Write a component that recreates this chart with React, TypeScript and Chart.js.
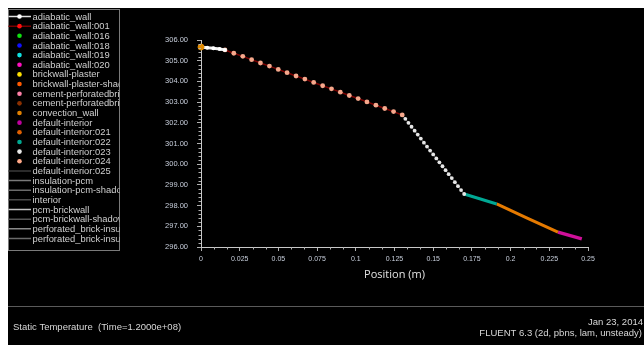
import React, { useEffect, useRef } from "react";
import { Chart, registerables } from "chart.js";

Chart.register(...registerables);

// ---------- data ----------
const xTickValues = [0, 0.025, 0.05, 0.075, 0.1, 0.125, 0.15, 0.175, 0.2, 0.225, 0.25];
const xTickLabels = ["0", "0.025", "0.05", "0.075", "0.1", "0.125", "0.15", "0.175", "0.2", "0.225", "0.25"];
const yTickValues = [296, 297, 298, 299, 300, 301, 302, 303, 304, 305, 306];
const yTickLabels = ["296.00", "297.00", "298.00", "299.00", "300.00", "301.00", "302.00", "303.00", "304.00", "305.00", "306.00"];

const convectionX = [0];
const convectionY = [305.66];

const adiabaticX = [0, 0.004, 0.008, 0.012, 0.0155];
const adiabaticY = [305.66, 305.63, 305.6, 305.56, 305.52];

const interior024X = [0.0155, 0.0212, 0.027, 0.0327, 0.0384, 0.0442, 0.0499, 0.0556, 0.0614, 0.0671, 0.0728, 0.0786, 0.0843, 0.09, 0.0958, 0.1015, 0.1072, 0.113, 0.1187, 0.1244, 0.13];
const interior024Y = [305.52, 305.36, 305.21, 305.05, 304.89, 304.74, 304.58, 304.42, 304.26, 304.11, 303.95, 303.79, 303.64, 303.48, 303.32, 303.17, 303.01, 302.85, 302.69, 302.54, 302.38];

const interior023X = [0.13, 0.132, 0.134, 0.136, 0.138, 0.14, 0.142, 0.144, 0.146, 0.148, 0.15, 0.152, 0.154, 0.156, 0.158, 0.16, 0.162, 0.164, 0.166, 0.168, 0.17];
const interior023Y = [302.38, 302.19, 302.0, 301.81, 301.62, 301.43, 301.24, 301.04, 300.85, 300.66, 300.47, 300.28, 300.09, 299.9, 299.71, 299.52, 299.33, 299.13, 298.94, 298.75, 298.56];

const interior022X = [0.17, 0.18, 0.191];
const interior022Y = [298.56, 298.33, 298.08];

const interior021X = [0.191, 0.21, 0.2306];
const interior021Y = [298.08, 297.42, 296.72];

const interiorX = [0.2306, 0.238, 0.246];
const interiorY = [296.72, 296.56, 296.39];

const legendNames = [
  "adiabatic_wall", "adiabatic_wall:001", "adiabatic_wall:016", "adiabatic_wall:018",
  "adiabatic_wall:019", "adiabatic_wall:020", "brickwall-plaster", "brickwall-plaster-shadow",
  "cement-perforatedbrick", "cement-perforatedbrick", "convection_wall", "default-interior",
  "default-interior:021", "default-interior:022", "default-interior:023", "default-interior:024",
  "default-interior:025", "insulation-pcm", "insulation-pcm-shadow", "interior",
  "pcm-brickwall", "pcm-brickwall-shadow", "perforated_brick-insulation", "perforated_brick-insulation",
];
const legendMarkers = [
  "#ffffff", "#ff1010", "#10e010", "#1010ff", "#10e0e0", "#ff10c0", "#ffe000", "#ff5a00",
  "#ff80a8", "#8a3000", "#e08000", "#c000a0", "#e06000", "#00a890", "#e8e8e8", "#ffa888",
  null, null, null, null, null, null, null, null,
];
const legendLines = [
  "#e0e0e0", "#7a0000", null, null, null, null, null, null,
  null, null, null, null, null, null, null, null,
  "#3a3a3a", "#7a7a7a", "#6a6a6a", "#4a4a4a", "#c0c0c0", "#555555", "#8a8a8a", "#6a6a6a",
];

const footerLeft = "Static Temperature  (Time=1.2000e+08)";
const footerRight1 = "Jan 23, 2014";
const footerRight2 = "FLUENT 6.3 (2d, pbns, lam, unsteady)";

const W = 636;
const H = 337;

const zip = (xs: number[], ys: number[]) => xs.map((x, i) => ({ x, y: ys[i] }));

const overlayPlugin = {
  id: "fluentOverlay",
  afterDraw(chart: any) {
    const ctx = chart.ctx as CanvasRenderingContext2D;
    const xs = chart.scales.x;
    const ys = chart.scales.y;
    ctx.save();
    // minor ticks
    ctx.strokeStyle = "#b0b0b0";
    ctx.lineWidth = 1;
    for (let i = 0; i < yTickValues.length - 1; i++) {
      for (let k = 1; k < 5; k++) {
        const v = yTickValues[i] + (k * (yTickValues[i + 1] - yTickValues[i])) / 5;
        const py = Math.round(ys.getPixelForValue(v)) + 0.5;
        ctx.beginPath();
        ctx.moveTo(xs.left - 2.5, py);
        ctx.lineTo(xs.left, py);
        ctx.stroke();
      }
    }
    for (let i = 0; i < xTickValues.length - 1; i++) {
      for (let k = 1; k < 3; k++) {
        const v = xTickValues[i] + (k * (xTickValues[i + 1] - xTickValues[i])) / 3;
        const px = Math.round(xs.getPixelForValue(v)) + 0.5;
        ctx.beginPath();
        ctx.moveTo(px, ys.bottom);
        ctx.lineTo(px, ys.bottom + 2.5);
        ctx.stroke();
      }
    }

    // legend box
    const bx = 0.5, by = 1.5, bw = 111, bh = 241;
    ctx.fillStyle = "#000";
    ctx.fillRect(bx, by, bw, bh);
    ctx.strokeStyle = "#7a7a7a";
    ctx.strokeRect(bx, by, bw, bh);
    ctx.beginPath();
    ctx.rect(bx, by, bw, bh);
    ctx.clip();
    ctx.font = "9.4px 'Liberation Sans', Arial, sans-serif";
    ctx.textBaseline = "middle";
    ctx.textAlign = "left";
    for (let i = 0; i < legendNames.length; i++) {
      const cy = 8.5 + i * 9.65;
      const lc = legendLines[i];
      if (lc) {
        ctx.strokeStyle = lc;
        ctx.lineWidth = 1.5;
        ctx.beginPath();
        ctx.moveTo(0, cy);
        ctx.lineTo(23, cy);
        ctx.stroke();
      }
      const mc = legendMarkers[i];
      if (mc) {
        ctx.fillStyle = mc;
        ctx.beginPath();
        ctx.arc(11.5, cy, 2.3, 0, Math.PI * 2);
        ctx.fill();
      }
      ctx.fillStyle = "#cfcfcf";
      ctx.fillText(legendNames[i], 24.5, cy + 0.5);
    }
    ctx.restore();

    // footer
    ctx.save();
    ctx.strokeStyle = "#5a5a5a";
    ctx.lineWidth = 1;
    ctx.beginPath();
    ctx.moveTo(0, 298.5);
    ctx.lineTo(W, 298.5);
    ctx.stroke();
    ctx.fillStyle = "#d8d8d8";
    ctx.font = "9.5px 'Liberation Sans', Arial, sans-serif";
    ctx.textBaseline = "middle";
    ctx.textAlign = "left";
    ctx.fillText(footerLeft, 5, 319);
    ctx.textAlign = "right";
    ctx.fillText(footerRight1, 635, 314);
    ctx.fillText(footerRight2, 634, 325);
    ctx.restore();
  },
};

export default function App() {
  const ref = useRef<HTMLCanvasElement | null>(null);
  useEffect(() => {
    if (!ref.current) return;
    const xTickFont = { family: "'Liberation Sans', Arial, sans-serif", size: 7 };
    const yTickFont = { family: "'Liberation Sans', Arial, sans-serif", size: 7.5 };
    const chart = new Chart(ref.current, {
      type: "scatter",
      data: {
        datasets: [
          {
            label: "convection_wall",
            data: zip(convectionX, convectionY),
            backgroundColor: "#e08a00",
            borderColor: "#e08a00",
            pointRadius: 3,
            showLine: false,
            clip: false,
            order: 0,
          },
          {
            label: "adiabatic_wall",
            data: zip(adiabaticX, adiabaticY),
            backgroundColor: "#ffffff",
            borderColor: "#f0f0f0",
            borderWidth: 3,
            pointRadius: 2,
            pointBorderWidth: 0,
            showLine: true,
            clip: false,
            order: 1,
          },
          {
            label: "default-interior:024",
            data: zip(interior024X, interior024Y),
            backgroundColor: "#f6a88c",
            borderColor: "#7a0000",
            borderWidth: 1.5,
            pointRadius: 2.4,
            pointBorderWidth: 0,
            showLine: true,
            clip: false,
            order: 2,
          },
          {
            label: "default-interior:023",
            data: zip(interior023X, interior023Y),
            backgroundColor: "#e6e6e6",
            borderColor: "rgba(150,150,150,0.6)",
            borderWidth: 1,
            pointRadius: 1.9,
            pointBorderWidth: 0,
            showLine: true,
            clip: false,
            order: 3,
          },
          {
            label: "default-interior:022",
            data: zip(interior022X, interior022Y),
            borderColor: "#00a894",
            backgroundColor: "#00a894",
            borderWidth: 3,
            pointRadius: 0,
            showLine: true,
            clip: false,
            order: 4,
          },
          {
            label: "default-interior:021",
            data: zip(interior021X, interior021Y),
            borderColor: "#e57a00",
            backgroundColor: "#e57a00",
            borderWidth: 3,
            pointRadius: 0,
            showLine: true,
            clip: false,
            order: 5,
          },
          {
            label: "default-interior",
            data: zip(interiorX, interiorY),
            borderColor: "#d0109a",
            backgroundColor: "#d0109a",
            borderWidth: 3.5,
            pointRadius: 0,
            showLine: true,
            clip: false,
            order: 6,
          },
        ],
      },
      options: {
        responsive: false,
        animation: false,
        layout: { padding: { left: 0, right: 56, top: 32, bottom: 0 } },
        plugins: { legend: { display: false }, tooltip: { enabled: false } },
        scales: {
          x: {
            type: "linear",
            min: 0,
            max: 0.25,
            afterBuildTicks: (s: any) => {
              s.ticks = xTickValues.map((v) => ({ value: v }));
            },
            afterFit: (s: any) => {
              s.height = 98;
            },
            ticks: {
              color: "#c8cfdc",
              font: xTickFont,
              padding: 4,
              maxRotation: 0,
              autoSkip: false,
              callback: (v: any) => {
                const i = xTickValues.indexOf(Number(v));
                return i >= 0 ? xTickLabels[i] : "";
              },
            },
            grid: { display: true, drawOnChartArea: false, color: "#b0b0b0", tickLength: 4 },
            border: { display: true, color: "#c8c8c8", width: 1 },
            title: {
              display: true,
              text: "Position (m)",
              color: "#e2e2e2",
              font: { family: "'Open Sans', sans-serif", size: 11 },
              padding: { top: 0, bottom: 64 },
            },
          },
          y: {
            type: "linear",
            min: 296,
            max: 306,
            afterBuildTicks: (s: any) => {
              s.ticks = yTickValues.map((v) => ({ value: v }));
            },
            afterFit: (s: any) => {
              s.width = 193;
            },
            ticks: {
              color: "#c8cfdc",
              font: yTickFont,
              padding: 9,
              autoSkip: false,
              callback: (v: any) => {
                const i = yTickValues.indexOf(Number(v));
                return i >= 0 ? yTickLabels[i] : "";
              },
            },
            grid: { display: true, drawOnChartArea: false, color: "#b0b0b0", tickLength: 4 },
            border: { display: true, color: "#c8c8c8", width: 1 },
          },
        },
      },
      plugins: [overlayPlugin],
    } as any);
    return () => chart.destroy();
  }, []);

  return (
    <div
      style={{
        width: W,
        height: H,
        background: "#000",
        position: "fixed",
        left: 8,
        top: 8,
        overflow: "hidden",
      }}
    >
      <canvas ref={ref} width={W} height={H} style={{ display: "block", width: W, height: H }} />
    </div>
  );
}
